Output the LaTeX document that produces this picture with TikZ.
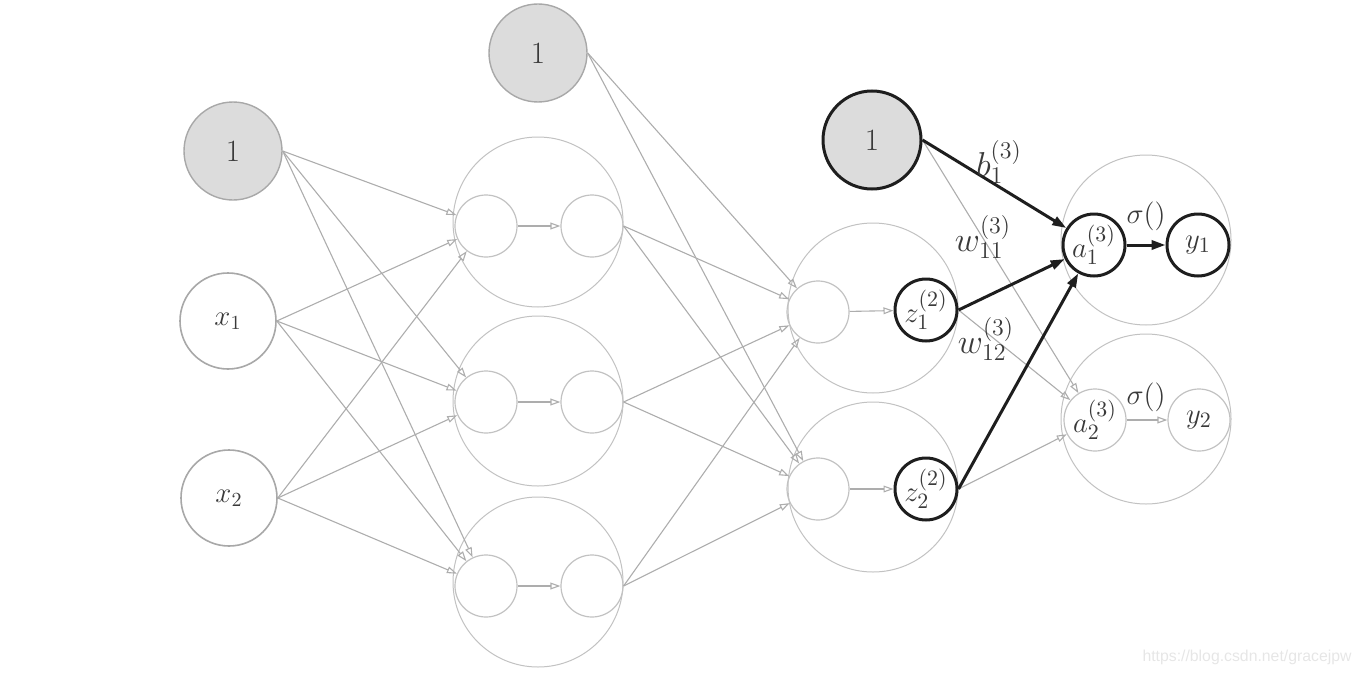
\documentclass[tikz,border=0pt]{standalone}
\usepackage{fontspec}
\newfontfamily\wmfont{Liberation Sans}
\usetikzlibrary{arrows.meta}
\definecolor{edgegray}{HTML}{ADADAD}
\definecolor{ringgray}{HTML}{C2C2C2}
\definecolor{inpgray}{HTML}{A8A8A8}
\definecolor{biasfill}{HTML}{DCDCDC}
\definecolor{dark}{HTML}{1E1E1E}
\definecolor{txt}{HTML}{3A3A3A}
\definecolor{wmgray}{HTML}{E6E6E6}
\begin{document}
\begin{tikzpicture}[x=0.5pt,y=-0.5pt,
  ring/.style={circle,draw=ringgray,line width=0.5pt,inner sep=0pt,minimum size=85pt},
  unit/.style={circle,draw=ringgray,line width=0.6pt,inner sep=0pt,minimum size=31pt,text=txt,font=\fontsize{15.5}{15.5}\selectfont},
  hotunit/.style={unit,draw=dark,line width=1.5pt},
  inp/.style={circle,draw=inpgray,line width=0.8pt,inner sep=0pt,minimum size=48pt,text=txt,font=\fontsize{14}{14}\selectfont},
  bias/.style={circle,draw=inpgray,fill=biasfill,line width=0.7pt,inner sep=0pt,minimum size=49pt,text=txt,font=\fontsize{15.5}{16}\selectfont},
  hotbias/.style={bias,draw=dark,line width=1.5pt},
  edge/.style={draw=edgegray,line width=0.55pt,-{Triangle[open,length=5pt,width=3.4pt]}},
  bold/.style={draw=dark,line width=1.5pt,-{Triangle[length=7pt,width=4.6pt]}},
  lbl/.style={text=txt,font=\fontsize{17}{17}\selectfont,inner sep=0pt},
  slbl/.style={text=txt,font=\fontsize{15}{15}\selectfont,inner sep=0pt}
]
\useasboundingbox (0,0) rectangle (1363,674);

% big rings
\node[ring] (H1) at (538,222) {};
\node[ring] (H2) at (538,401) {};
\node[ring] (H3) at (538,582) {};
\node[ring] (G1) at (873,308) {};
\node[ring] (G2) at (873,487) {};
\node[ring] (O1) at (1146,240) {};
\node[ring] (O2) at (1146,419) {};

% input layer
\node[bias] (b0) at (233,151) {1};
\node[inp] (x1) at (228,321) {$x_1$};
\node[inp] (x2) at (229,498) {$x_2$};

% hidden layer 1
\node[bias] (b1) at (538,53) {1};
\node[unit] (h1a) at (486,226) {};
\node[unit] (h1b) at (592,226) {};
\node[unit] (h2a) at (486,402) {};
\node[unit] (h2b) at (592,402) {};
\node[unit] (h3a) at (486,586) {};
\node[unit] (h3b) at (592,586) {};

% hidden layer 2
\node[hotbias] (b2) at (872,140) {1};
\node[unit] (g1a) at (818,312) {};
\node[hotunit] (z1) at (926,310) {$z_1^{(2)}$};
\node[unit] (g2a) at (818,489) {};
\node[hotunit] (z2) at (926,489) {$z_2^{(2)}$};

% output layer
\node[hotunit] (a1) at (1094,245) {$a_1^{(3)}$};
\node[hotunit] (y1) at (1198,245) {$y_1$};
\node[unit] (a2) at (1095,420) {$a_2^{(3)}$};
\node[unit] (y2) at (1199,420) {$y_2$};

% edges input -> hidden 1
\foreach \s in {b0,x1,x2}
  \foreach \t in {h1a,h2a,h3a}
    \draw[edge] (\s.east) -- (\t);
\foreach \i in {1,2,3}
  \draw[edge] (h\i a) -- (h\i b);

% hidden 1 -> hidden 2
\foreach \s in {b1,h1b,h2b,h3b}
  \foreach \t in {g1a,g2a}
    \draw[edge] (\s.east) -- (\t);
\draw[edge] (g1a) -- (z1);
\draw[edge] (g2a) -- (z2);

% hidden 2 -> output (gray)
\draw[edge] (b2.east) -- (a2);
\draw[edge] (z1.east) -- (a2);
\draw[edge] (z2.east) -- (a2);
\draw[edge] (a2) -- (y2);

% highlighted
\draw[bold] (b2.east) -- (a1);
\draw[bold] (z1.east) -- (a1);
\draw[bold] (z2.east) -- (a1);
\draw[bold] (a1) -- (y1);

% labels
\node[lbl] (lb) at (999,162) {$b_1^{(3)}$};
\node[lbl] (lw11) at (983,237) {$w_{11}^{(3)}$};
\node[lbl] (lw12) at (986,339) {$w_{12}^{(3)}$};
\node[slbl] (ls1) at (1146,216) {$\sigma()$};
\node[slbl] (ls2) at (1146,397) {$\sigma()$};

% watermark
\node[text=wmgray,font=\wmfont\fontsize{7.9}{8}\selectfont,inner sep=0pt] (wm) at (1247,657) {https://blog.csdn.net/gracejpw};
\end{tikzpicture}
\end{document}
